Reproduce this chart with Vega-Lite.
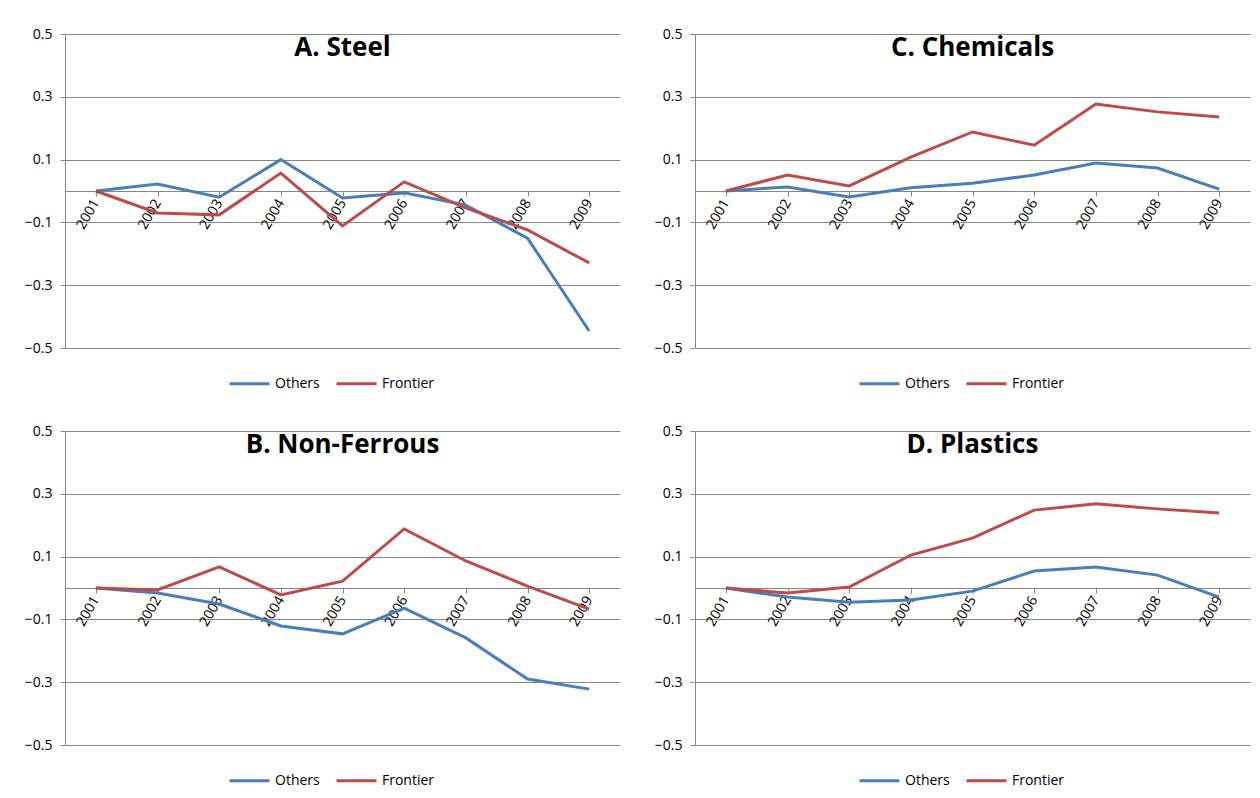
{
  "$schema": "https://vega.github.io/schema/vega-lite/v6.json",
  "background": "white",
  "padding": {"left": 24, "top": 27, "right": 10, "bottom": 0},
  "datasets": {"all": [
    {"panel": "A. Steel", "series": "Others", "year": "2001", "v": 0},
    {"panel": "A. Steel", "series": "Others", "year": "2002", "v": 0.022},
    {"panel": "A. Steel", "series": "Others", "year": "2003", "v": -0.02},
    {"panel": "A. Steel", "series": "Others", "year": "2004", "v": 0.1},
    {"panel": "A. Steel", "series": "Others", "year": "2005", "v": -0.022},
    {"panel": "A. Steel", "series": "Others", "year": "2006", "v": -0.006},
    {"panel": "A. Steel", "series": "Others", "year": "2007", "v": -0.045},
    {"panel": "A. Steel", "series": "Others", "year": "2008", "v": -0.15},
    {"panel": "A. Steel", "series": "Others", "year": "2009", "v": -0.446},
    {"panel": "A. Steel", "series": "Frontier", "year": "2001", "v": 0},
    {"panel": "A. Steel", "series": "Frontier", "year": "2002", "v": -0.07},
    {"panel": "A. Steel", "series": "Frontier", "year": "2003", "v": -0.076},
    {"panel": "A. Steel", "series": "Frontier", "year": "2004", "v": 0.057},
    {"panel": "A. Steel", "series": "Frontier", "year": "2005", "v": -0.111},
    {"panel": "A. Steel", "series": "Frontier", "year": "2006", "v": 0.029},
    {"panel": "A. Steel", "series": "Frontier", "year": "2007", "v": -0.054},
    {"panel": "A. Steel", "series": "Frontier", "year": "2008", "v": -0.124},
    {"panel": "A. Steel", "series": "Frontier", "year": "2009", "v": -0.229},
    {"panel": "C. Chemicals", "series": "Others", "year": "2001", "v": 0},
    {"panel": "C. Chemicals", "series": "Others", "year": "2002", "v": 0.013},
    {"panel": "C. Chemicals", "series": "Others", "year": "2003", "v": -0.019},
    {"panel": "C. Chemicals", "series": "Others", "year": "2004", "v": 0.01},
    {"panel": "C. Chemicals", "series": "Others", "year": "2005", "v": 0.025},
    {"panel": "C. Chemicals", "series": "Others", "year": "2006", "v": 0.051},
    {"panel": "C. Chemicals", "series": "Others", "year": "2007", "v": 0.089},
    {"panel": "C. Chemicals", "series": "Others", "year": "2008", "v": 0.073},
    {"panel": "C. Chemicals", "series": "Others", "year": "2009", "v": 0.006},
    {"panel": "C. Chemicals", "series": "Frontier", "year": "2001", "v": 0},
    {"panel": "C. Chemicals", "series": "Frontier", "year": "2002", "v": 0.051},
    {"panel": "C. Chemicals", "series": "Frontier", "year": "2003", "v": 0.016},
    {"panel": "C. Chemicals", "series": "Frontier", "year": "2004", "v": 0.108},
    {"panel": "C. Chemicals", "series": "Frontier", "year": "2005", "v": 0.188},
    {"panel": "C. Chemicals", "series": "Frontier", "year": "2006", "v": 0.146},
    {"panel": "C. Chemicals", "series": "Frontier", "year": "2007", "v": 0.277},
    {"panel": "C. Chemicals", "series": "Frontier", "year": "2008", "v": 0.252},
    {"panel": "C. Chemicals", "series": "Frontier", "year": "2009", "v": 0.236},
    {"panel": "B. Non-Ferrous", "series": "Others", "year": "2001", "v": 0},
    {"panel": "B. Non-Ferrous", "series": "Others", "year": "2002", "v": -0.016},
    {"panel": "B. Non-Ferrous", "series": "Others", "year": "2003", "v": -0.051},
    {"panel": "B. Non-Ferrous", "series": "Others", "year": "2004", "v": -0.121},
    {"panel": "B. Non-Ferrous", "series": "Others", "year": "2005", "v": -0.146},
    {"panel": "B. Non-Ferrous", "series": "Others", "year": "2006", "v": -0.064},
    {"panel": "B. Non-Ferrous", "series": "Others", "year": "2007", "v": -0.159},
    {"panel": "B. Non-Ferrous", "series": "Others", "year": "2008", "v": -0.29},
    {"panel": "B. Non-Ferrous", "series": "Others", "year": "2009", "v": -0.322},
    {"panel": "B. Non-Ferrous", "series": "Frontier", "year": "2001", "v": 0},
    {"panel": "B. Non-Ferrous", "series": "Frontier", "year": "2002", "v": -0.006},
    {"panel": "B. Non-Ferrous", "series": "Frontier", "year": "2003", "v": 0.067},
    {"panel": "B. Non-Ferrous", "series": "Frontier", "year": "2004", "v": -0.022},
    {"panel": "B. Non-Ferrous", "series": "Frontier", "year": "2005", "v": 0.022},
    {"panel": "B. Non-Ferrous", "series": "Frontier", "year": "2006", "v": 0.188},
    {"panel": "B. Non-Ferrous", "series": "Frontier", "year": "2007", "v": 0.086},
    {"panel": "B. Non-Ferrous", "series": "Frontier", "year": "2008", "v": 0.006},
    {"panel": "B. Non-Ferrous", "series": "Frontier", "year": "2009", "v": -0.067},
    {"panel": "D. Plastics", "series": "Others", "year": "2001", "v": 0},
    {"panel": "D. Plastics", "series": "Others", "year": "2002", "v": -0.029},
    {"panel": "D. Plastics", "series": "Others", "year": "2003", "v": -0.045},
    {"panel": "D. Plastics", "series": "Others", "year": "2004", "v": -0.038},
    {"panel": "D. Plastics", "series": "Others", "year": "2005", "v": -0.01},
    {"panel": "D. Plastics", "series": "Others", "year": "2006", "v": 0.054},
    {"panel": "D. Plastics", "series": "Others", "year": "2007", "v": 0.067},
    {"panel": "D. Plastics", "series": "Others", "year": "2008", "v": 0.041},
    {"panel": "D. Plastics", "series": "Others", "year": "2009", "v": -0.029},
    {"panel": "D. Plastics", "series": "Frontier", "year": "2001", "v": 0},
    {"panel": "D. Plastics", "series": "Frontier", "year": "2002", "v": -0.016},
    {"panel": "D. Plastics", "series": "Frontier", "year": "2003", "v": 0.003},
    {"panel": "D. Plastics", "series": "Frontier", "year": "2004", "v": 0.105},
    {"panel": "D. Plastics", "series": "Frontier", "year": "2005", "v": 0.159},
    {"panel": "D. Plastics", "series": "Frontier", "year": "2006", "v": 0.248},
    {"panel": "D. Plastics", "series": "Frontier", "year": "2007", "v": 0.268},
    {"panel": "D. Plastics", "series": "Frontier", "year": "2008", "v": 0.252},
    {"panel": "D. Plastics", "series": "Frontier", "year": "2009", "v": 0.239}
  ]},
  "data": {"name": "all"},
  "columns": 2,
  "spacing": {"column": 34, "row": 33},
  "resolve": {"scale": {"x": "independent", "y": "independent"}, "axis": {"x": "independent", "y": "independent"}, "legend": {"color": "independent"}},
  "concat": [
    {
      "transform": [{"filter": "datum.panel == 'A. Steel'"}],
      "width": 555, "height": 314,
      "encoding": {
        "x": {"field": "year", "type": "ordinal", "scale": {"type": "point", "padding": 0.5}, "axis": {"title": null, "labelAngle": -60, "offset": -157, "labelFontSize": 14, "labelColor": "#000", "domainColor": "#868686", "tickColor": "#868686", "labelPadding": 4}},
        "y": {"field": "v", "type": "quantitative", "scale": {"domain": [-0.5, 0.5], "nice": false}, "axis": {"title": null, "values": [-0.5, -0.3, -0.1, 0.1, 0.3, 0.5], "format": ".1f", "labelFontSize": 14, "labelColor": "#000", "domainColor": "#868686", "tickColor": "#868686", "gridColor": "#868686", "labelPadding": 8}}
      },
      "layer": [
        {"mark": {"type": "line", "strokeWidth": 3}, "encoding": {"color": {"field": "series", "type": "nominal", "scale": {"domain": ["Others", "Frontier"], "range": ["#4a7ebb", "#be4b48"]}, "legend": {"title": null, "orient": "none", "legendX": 163, "legendY": 328, "direction": "horizontal", "symbolType": "stroke", "symbolStrokeWidth": 3, "symbolSize": 1600, "labelFontSize": 14}}}},
        {"transform": [{"filter": "datum.year == '2005' && datum.series == 'Others'"}], "mark": {"type": "text", "fontSize": 26, "fontWeight": "bold", "baseline": "middle"}, "encoding": {"y": {"datum": 0.455}, "text": {"field": "panel"}}}
      ]
    },
    {
      "transform": [{"filter": "datum.panel == 'C. Chemicals'"}],
      "width": 555, "height": 314,
      "encoding": {
        "x": {"field": "year", "type": "ordinal", "scale": {"type": "point", "padding": 0.5}, "axis": {"title": null, "labelAngle": -60, "offset": -157, "labelFontSize": 14, "labelColor": "#000", "domainColor": "#868686", "tickColor": "#868686", "labelPadding": 4}},
        "y": {"field": "v", "type": "quantitative", "scale": {"domain": [-0.5, 0.5], "nice": false}, "axis": {"title": null, "values": [-0.5, -0.3, -0.1, 0.1, 0.3, 0.5], "format": ".1f", "labelFontSize": 14, "labelColor": "#000", "domainColor": "#868686", "tickColor": "#868686", "gridColor": "#868686", "labelPadding": 8}}
      },
      "layer": [
        {"mark": {"type": "line", "strokeWidth": 3}, "encoding": {"color": {"field": "series", "type": "nominal", "scale": {"domain": ["Others", "Frontier"], "range": ["#4a7ebb", "#be4b48"]}, "legend": {"title": null, "orient": "none", "legendX": 163, "legendY": 328, "direction": "horizontal", "symbolType": "stroke", "symbolStrokeWidth": 3, "symbolSize": 1600, "labelFontSize": 14}}}},
        {"transform": [{"filter": "datum.year == '2005' && datum.series == 'Others'"}], "mark": {"type": "text", "fontSize": 26, "fontWeight": "bold", "baseline": "middle"}, "encoding": {"y": {"datum": 0.455}, "text": {"field": "panel"}}}
      ]
    },
    {
      "transform": [{"filter": "datum.panel == 'B. Non-Ferrous'"}],
      "width": 555, "height": 314,
      "encoding": {
        "x": {"field": "year", "type": "ordinal", "scale": {"type": "point", "padding": 0.5}, "axis": {"title": null, "labelAngle": -60, "offset": -157, "labelFontSize": 14, "labelColor": "#000", "domainColor": "#868686", "tickColor": "#868686", "labelPadding": 4}},
        "y": {"field": "v", "type": "quantitative", "scale": {"domain": [-0.5, 0.5], "nice": false}, "axis": {"title": null, "values": [-0.5, -0.3, -0.1, 0.1, 0.3, 0.5], "format": ".1f", "labelFontSize": 14, "labelColor": "#000", "domainColor": "#868686", "tickColor": "#868686", "gridColor": "#868686", "labelPadding": 8}}
      },
      "layer": [
        {"mark": {"type": "line", "strokeWidth": 3}, "encoding": {"color": {"field": "series", "type": "nominal", "scale": {"domain": ["Others", "Frontier"], "range": ["#4a7ebb", "#be4b48"]}, "legend": {"title": null, "orient": "none", "legendX": 163, "legendY": 328, "direction": "horizontal", "symbolType": "stroke", "symbolStrokeWidth": 3, "symbolSize": 1600, "labelFontSize": 14}}}},
        {"transform": [{"filter": "datum.year == '2005' && datum.series == 'Others'"}], "mark": {"type": "text", "fontSize": 26, "fontWeight": "bold", "baseline": "middle"}, "encoding": {"y": {"datum": 0.455}, "text": {"field": "panel"}}}
      ]
    },
    {
      "transform": [{"filter": "datum.panel == 'D. Plastics'"}],
      "width": 555, "height": 314,
      "encoding": {
        "x": {"field": "year", "type": "ordinal", "scale": {"type": "point", "padding": 0.5}, "axis": {"title": null, "labelAngle": -60, "offset": -157, "labelFontSize": 14, "labelColor": "#000", "domainColor": "#868686", "tickColor": "#868686", "labelPadding": 4}},
        "y": {"field": "v", "type": "quantitative", "scale": {"domain": [-0.5, 0.5], "nice": false}, "axis": {"title": null, "values": [-0.5, -0.3, -0.1, 0.1, 0.3, 0.5], "format": ".1f", "labelFontSize": 14, "labelColor": "#000", "domainColor": "#868686", "tickColor": "#868686", "gridColor": "#868686", "labelPadding": 8}}
      },
      "layer": [
        {"mark": {"type": "line", "strokeWidth": 3}, "encoding": {"color": {"field": "series", "type": "nominal", "scale": {"domain": ["Others", "Frontier"], "range": ["#4a7ebb", "#be4b48"]}, "legend": {"title": null, "orient": "none", "legendX": 163, "legendY": 328, "direction": "horizontal", "symbolType": "stroke", "symbolStrokeWidth": 3, "symbolSize": 1600, "labelFontSize": 14}}}},
        {"transform": [{"filter": "datum.year == '2005' && datum.series == 'Others'"}], "mark": {"type": "text", "fontSize": 26, "fontWeight": "bold", "baseline": "middle"}, "encoding": {"y": {"datum": 0.455}, "text": {"field": "panel"}}}
      ]
    }
  ],
  "config": {"view": {"stroke": null}, "font": "Open Sans"}
}
